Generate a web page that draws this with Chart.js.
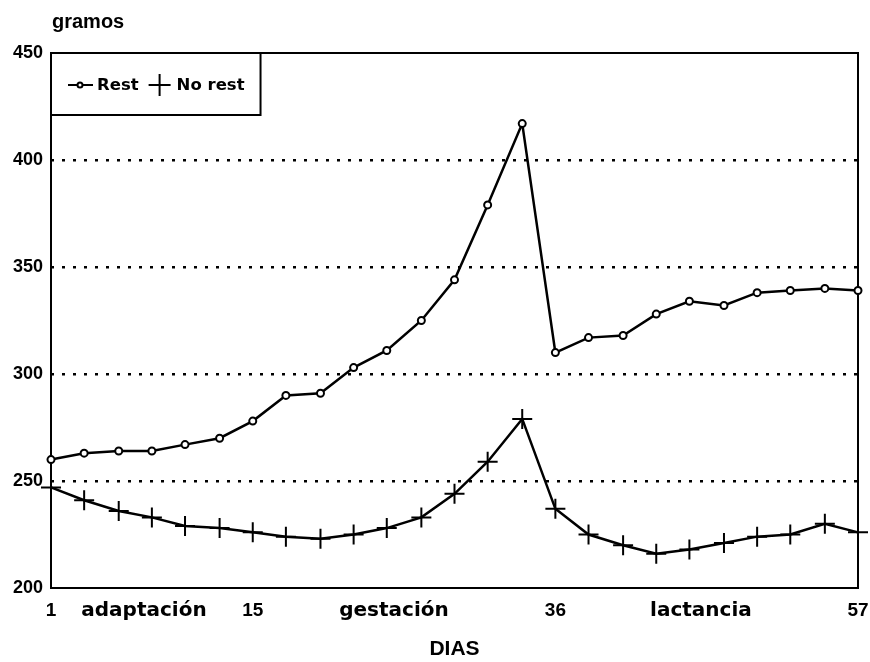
<!DOCTYPE html>
<html>
<head>
<meta charset="utf-8">
<script src="https://cdn.jsdelivr.net/npm/chart.js@4"></script>
<style>
  html, body { margin: 0; padding: 0; background: #fff; }
</style>
</head>
<body>
<canvas id="chart" width="870" height="662"></canvas>
<script>
// sample days (25 samples between day 1 and day 57)
const DAYS = [1, 3.3, 5.7, 8, 10.3, 12.7, 15, 17.3, 19.7, 22, 24.3, 26.7, 29,
              31.3, 33.7, 36, 38.3, 40.7, 43, 45.3, 47.7, 50, 52.3, 54.7, 57];
const REST = [260, 263, 264, 264, 267, 270, 278, 290, 291, 303, 311, 325, 344,
              379, 417, 310, 317, 318, 328, 334, 332, 338, 339, 340, 339];
const NO_REST = [247, 241, 236, 233, 229, 228, 226, 224, 223, 225, 228, 233, 244,
                 259, 279, 237, 225, 220, 216, 218, 221, 224, 225, 230, 226];
const Y_TICKS = [200, 250, 300, 350, 400, 450];
const X_TICK_VALUES = [1, 7.45, 15, 24.8, 36, 46.1, 57];
const X_TICK_LABELS = ["1", "adaptación", "15", "gestación", "36", "lactancia", "57"];
const SERIES_NAMES = ["Rest", "No rest"];

const SANS = "'Liberation Sans', Arial, sans-serif";
const WIDE = "'DejaVu Sans', 'Liberation Sans', sans-serif";

// frame round the plot area + the "gramos" caption
const framePlugin = {
  id: "frame",
  beforeDatasetsDraw(chart) {
    const { ctx, chartArea: a } = chart;
    ctx.save();
    ctx.strokeStyle = "#000";
    ctx.lineWidth = 2;
    ctx.strokeRect(a.left, a.top, a.right - a.left, a.bottom - a.top);
    ctx.restore();
  },
  afterDraw(chart) {
    const { ctx, chartArea: a } = chart;
    ctx.save();
    ctx.fillStyle = "#000";
    ctx.font = "bold 20px " + SANS;
    ctx.textBaseline = "alphabetic";
    ctx.fillText("gramos", a.left + 1, 28);
    ctx.restore();
  }
};

// boxed legend in the top-left corner of the plot
const boxLegend = {
  id: "boxLegend",
  afterDraw(chart) {
    const { ctx, chartArea: a } = chart;
    const top = a.top, h = 62, midY = top + 32;
    ctx.save();
    ctx.font = "bold 16.5px " + WIDE;
    let x = a.left + 17;
    const items = [];
    chart.data.datasets.forEach((ds, i) => {
      const w = ctx.measureText(ds.label).width;
      items.push({ ds, i, x, w });
      x += 26 + 3 + w + 9;
    });
    const right = x + 7;
    ctx.fillStyle = "#fff";
    ctx.fillRect(a.left, top, right - a.left, h);
    ctx.strokeStyle = "#000";
    ctx.lineWidth = 2;
    ctx.strokeRect(a.left, top, right - a.left, h);

    items.forEach(({ ds, i, x }) => {
      ctx.strokeStyle = "#000";
      ctx.lineWidth = 2;
      if (i === 0) {
        ctx.beginPath();
        ctx.moveTo(x, midY); ctx.lineTo(x + 25, midY);
        ctx.stroke();
        ctx.beginPath();
        ctx.arc(x + 12, midY, 2.5, 0, Math.PI * 2);
        ctx.fillStyle = "#fff";
        ctx.fill();
        ctx.stroke();
      } else {
        ctx.beginPath();
        ctx.moveTo(x + 1, midY); ctx.lineTo(x + 23, midY);
        ctx.moveTo(x + 12, midY - 11); ctx.lineTo(x + 12, midY + 11);
        ctx.stroke();
      }
      ctx.fillStyle = "#000";
      ctx.textBaseline = "middle";
      ctx.fillText(ds.label, x + 26 + 3, midY + 1);
    });
    ctx.restore();
  }
};

new Chart(document.getElementById("chart"), {
  type: "line",
  data: {
    datasets: [
      {
        label: SERIES_NAMES[0],
        data: DAYS.map((d, i) => ({ x: d, y: REST[i] })),
        borderColor: "#000",
        borderWidth: 2.5,
        pointStyle: "circle",
        pointRadius: 3.5,
        pointBorderWidth: 2,
        pointBackgroundColor: "#fff",
        pointBorderColor: "#000",
        tension: 0,
        clip: false
      },
      {
        label: SERIES_NAMES[1],
        data: DAYS.map((d, i) => ({ x: d, y: NO_REST[i] })),
        borderColor: "#000",
        borderWidth: 2.5,
        pointStyle: "cross",
        pointRadius: 10,
        pointBorderWidth: 2,
        pointBorderColor: "#000",
        tension: 0,
        clip: false
      }
    ]
  },
  options: {
    responsive: false,
    animation: false,
    events: [],
    layout: { padding: { top: 53, right: 11, left: 0, bottom: 0 } },
    plugins: {
      legend: { display: false },
      tooltip: { enabled: false }
    },
    scales: {
      x: {
        type: "linear",
        min: 1,
        max: 57,
        grid: { display: false },
        border: { display: false },
        afterBuildTicks: (axis) => { axis.ticks = X_TICK_VALUES.map(v => ({ value: v })); },
        afterFit: (axis) => {
          axis.height = 74;
          axis.paddingLeft = 0;
          axis.paddingRight = 0;
        },
        ticks: {
          autoSkip: false,
          maxRotation: 0,
          padding: 5,
          color: "#000",
          callback: (v, i) => X_TICK_LABELS[i],
          font: (c) => {
            const num = /^\d+$/.test(X_TICK_LABELS[c.index] || "");
            return num
              ? { family: SANS, weight: "bold", size: 19, lineHeight: "20px" }
              : { family: WIDE, weight: "bold", size: 20, lineHeight: "20px" };
          }
        },
        title: {
          display: true,
          text: "DIAS",
          color: "#000",
          font: { family: SANS, weight: "bold", size: 21 },
          padding: { top: 0, bottom: 0 }
        }
      },
      y: {
        min: 200,
        max: 450,
        afterBuildTicks: (axis) => { axis.ticks = Y_TICKS.map(v => ({ value: v })); },
        afterFit: (axis) => { axis.width = 51; },
        grid: {
          drawTicks: false,
          lineWidth: 2.5,
          color: (c) => (c.tick && (c.tick.value === 200 || c.tick.value === 450)) ? "rgba(0,0,0,0)" : "#000"
        },
        border: { display: false, dash: [3, 8] },
        ticks: {
          padding: 8,
          color: "#000",
          font: { family: SANS, weight: "bold", size: 18 }
        }
      }
    }
  },
  plugins: [framePlugin, boxLegend]
});
</script>
</body>
</html>
